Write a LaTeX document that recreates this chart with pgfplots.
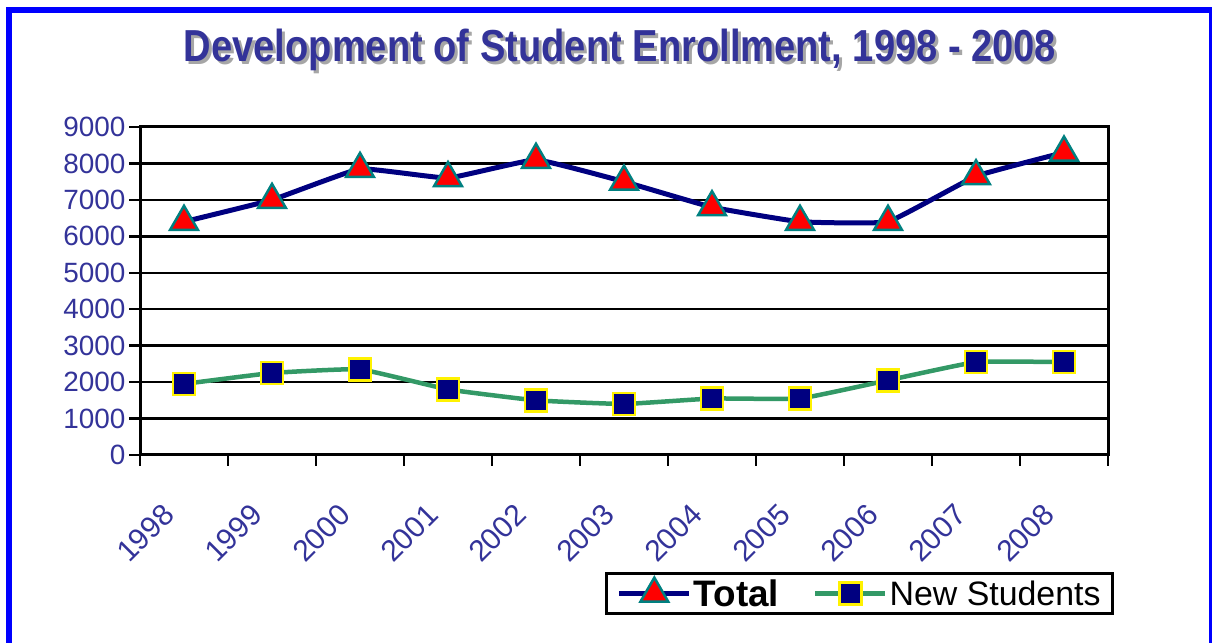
\documentclass[border=0pt]{standalone}
\usepackage{fontspec}
\setmainfont{Liberation Sans}
\usepackage{pgfplots}
\pgfplotsset{compat=1.18}
\definecolor{titleblue}{HTML}{333399}
\definecolor{tickblue}{HTML}{333399}
\definecolor{navyline}{HTML}{000080}
\definecolor{greenline}{HTML}{339966}
\definecolor{tealedge}{HTML}{008080}
\definecolor{frameblue}{HTML}{0000FF}
\begin{document}
\begin{tikzpicture}[x=1bp,y=1bp]
\useasboundingbox (0,0) rectangle (1212,643);
\draw[frameblue, line width=6bp] (9,-30) rectangle (1212,633);
\node[anchor=base, text=black!35, inner sep=0] at (623,578) {\fontsize{45}{50}\selectfont\bfseries\scalebox{0.85}[1]{Development of Student Enrollment, 1998 - 2008}};
\node[anchor=base, text=titleblue, inner sep=0] at (620,581) {\fontsize{45}{50}\selectfont\bfseries\scalebox{0.85}[1]{Development of Student Enrollment, 1998 - 2008}};
\begin{axis}[
  at={(140bp,188bp)}, anchor=south west,
  scale only axis, width=968bp, height=328bp,
  xmin=-0.5, xmax=10.5, ymin=0, ymax=9000,
  xtick={-0.5,0.5,1.5,2.5,3.5,4.5,5.5,6.5,7.5,8.5,9.5,10.5},
  x tick label as interval,
  xticklabels={1998,1999,2000,2001,2002,2003,2004,2005,2006,2007,2008},
  ytick={0,1000,2000,3000,4000,5000,6000,7000,8000,9000},
  ymajorgrids,
  grid style={black, line width=2.5bp},
  axis line style={black, line width=3bp},
  tick style={black, line width=2.5bp},
  tick align=outside, major tick length=11bp,
  xtick pos=bottom, ytick pos=left,
  ticklabel style={font=\fontsize{28}{30}\selectfont, text=tickblue},
  /pgf/number format/assume math mode=true,
  /pgf/number format/set thousands separator={},
  scaled y ticks=false,
  xticklabel style={rotate=45, anchor=north east, font=\fontsize{30}{32}\selectfont, xshift=-38bp, yshift=-6bp},
  clip=false,
  legend style={at={(1.0062,-0.3567)}, anchor=north east, draw=black, line width=3bp,
    font=\fontsize{34}{38}\selectfont, inner ysep=4bp, inner xsep=10bp,
    /tikz/every even column/.append style={column sep=32bp}},
  legend columns=2,
  legend image code/.code={\draw[mark repeat=2,mark phase=2,#1] plot coordinates {(0bp,0bp)(35bp,0bp)(70bp,0bp)};},
]
\addplot[color=navyline, line width=5bp, smooth, tension=0.18,
  mark=triangle*, mark size=16bp, mark options={fill=red, draw=tealedge, line width=2.5bp, solid}]
  coordinates {(0,6400) (1,7000) (2,7850) (3,7600) (4,8100) (5,7500) (6,6800) (7,6400) (8,6400) (9,7650) (10,8300)};
\addlegendentry{\fontsize{37}{38}\selectfont\textbf{Total}}
\addplot[color=greenline, line width=4.5bp, smooth, tension=0.2,
  mark=square*, mark size=11bp, mark options={fill=navyline, draw=yellow, line width=2.5bp, solid}]
  coordinates {(0,1950) (1,2250) (2,2350) (3,1800) (4,1500) (5,1400) (6,1550) (7,1550) (8,2050) (9,2550) (10,2550)};
\addlegendentry{New Students}
\end{axis}
\end{tikzpicture}
\end{document}
